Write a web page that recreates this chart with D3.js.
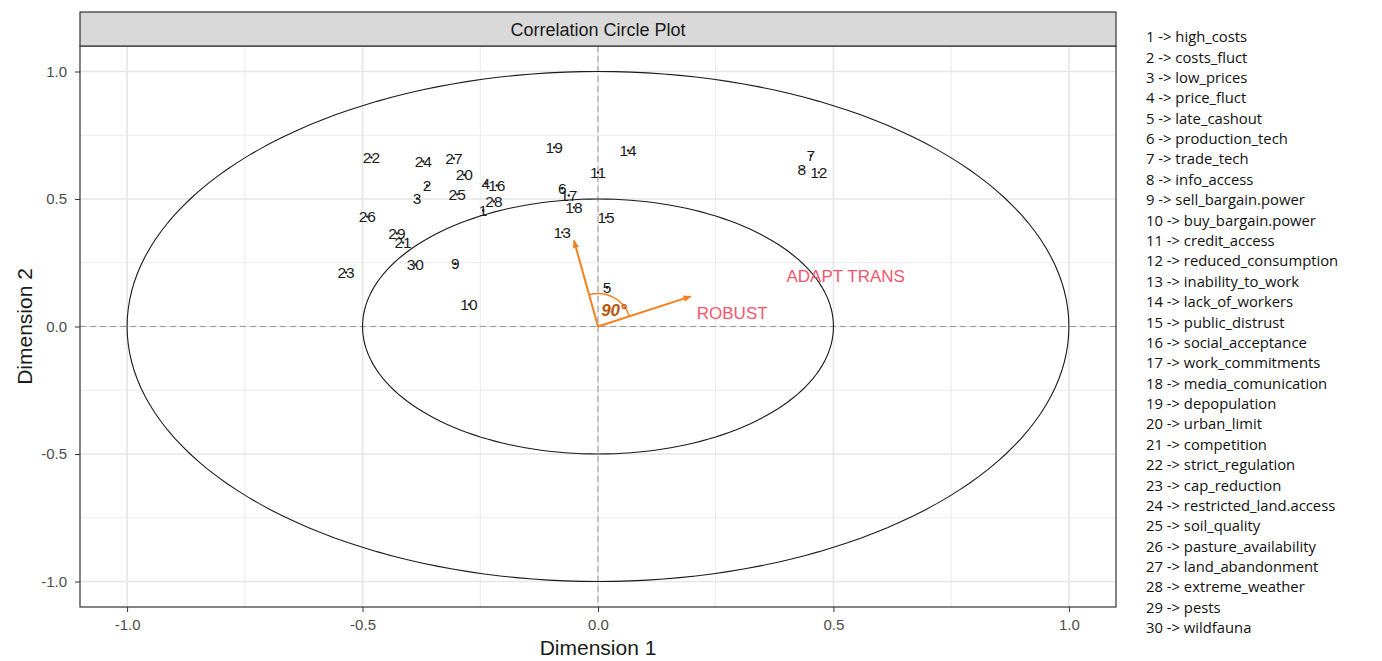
<!DOCTYPE html>
<html>
<head>
<meta charset="utf-8">
<script src="https://cdn.jsdelivr.net/npm/d3@7"></script>
<style>
  body { margin: 0; background: #fff; }
  svg { display: block; font-family: "Liberation Sans", Arial, sans-serif; }
</style>
</head>
<body>
<div id="chart"></div>
<script>
// variable names (legend) and their coordinates on the two dimensions
const varNames = ["high_costs", "costs_fluct", "low_prices", "price_fluct", "late_cashout",
  "production_tech", "trade_tech", "info_access", "sell_bargain.power", "buy_bargain.power",
  "credit_access", "reduced_consumption", "inability_to_work", "lack_of_workers", "public_distrust",
  "social_acceptance", "work_commitments", "media_comunication", "depopulation", "urban_limit",
  "competition", "strict_regulation", "cap_reduction", "restricted_land.access", "soil_quality",
  "pasture_availability", "land_abandonment", "extreme_weather", "pests", "wildfauna"];
const dim1 = [-0.244, -0.363, -0.384, -0.238, 0.019, -0.076, 0.452, 0.433, -0.303, -0.274,
  0.0, 0.469, -0.076, 0.064, 0.017, -0.215, -0.062, -0.051, -0.093, -0.284,
  -0.414, -0.481, -0.535, -0.371, -0.299, -0.490, -0.306, -0.221, -0.427, -0.388];
const dim2 = [0.455, 0.553, 0.502, 0.561, 0.153, 0.541, 0.671, 0.616, 0.247, 0.086,
  0.604, 0.604, 0.369, 0.690, 0.427, 0.553, 0.514, 0.467, 0.702, 0.594,
  0.329, 0.663, 0.212, 0.647, 0.518, 0.431, 0.659, 0.490, 0.365, 0.243];

// supplementary labels
const suppNames = ["ROBUST", "ADAPT TRANS"];
const suppDim1 = [0.285, 0.526];
const suppDim2 = [0.051, 0.196];

// orange arrows
const arrowDim1 = [-0.051, 0.197];
const arrowDim2 = [0.337, 0.118];

const circleRadii = [1.0, 0.5];
const majorTicks = [-1.0, -0.5, 0.0, 0.5, 1.0];
const minorTicks = [-0.75, -0.25, 0.25, 0.75];

const W = 1382, H = 661;
const panel = {left: 80, right: 1116, top: 46, bottom: 607};

const svg = d3.select("#chart").append("svg")
  .attr("width", W).attr("height", H);

const x = d3.scaleLinear().domain([-1.1, 1.1]).range([panel.left, panel.right]);
const y = d3.scaleLinear().domain([-1.1, 1.1]).range([panel.bottom, panel.top]);

// grid
const grid = svg.append("g");
grid.selectAll(".vminor").data(minorTicks).enter().append("line")
  .attr("x1", d => x(d)).attr("x2", d => x(d))
  .attr("y1", panel.top).attr("y2", panel.bottom)
  .attr("stroke", "#ebebeb").attr("stroke-width", 1);
grid.selectAll(".hminor").data(minorTicks).enter().append("line")
  .attr("y1", d => y(d)).attr("y2", d => y(d))
  .attr("x1", panel.left).attr("x2", panel.right)
  .attr("stroke", "#ebebeb").attr("stroke-width", 1);
grid.selectAll(".vmajor").data(majorTicks).enter().append("line")
  .attr("x1", d => x(d)).attr("x2", d => x(d))
  .attr("y1", panel.top).attr("y2", panel.bottom)
  .attr("stroke", "#e6e6e6").attr("stroke-width", 1.6);
grid.selectAll(".hmajor").data(majorTicks).enter().append("line")
  .attr("y1", d => y(d)).attr("y2", d => y(d))
  .attr("x1", panel.left).attr("x2", panel.right)
  .attr("stroke", "#e6e6e6").attr("stroke-width", 1.6);

// dashed zero lines
svg.append("line")
  .attr("x1", x(0)).attr("x2", x(0)).attr("y1", panel.top).attr("y2", panel.bottom)
  .attr("stroke", "#9a9a9a").attr("stroke-dasharray", "6,4").attr("stroke-width", 1);
svg.append("line")
  .attr("y1", y(0)).attr("y2", y(0)).attr("x1", panel.left).attr("x2", panel.right)
  .attr("stroke", "#9a9a9a").attr("stroke-dasharray", "6,4").attr("stroke-width", 1);

// correlation circles
const angles = d3.range(0, 361, 2).map(a => a * Math.PI / 180);
const line = d3.line().x(d => x(d[0])).y(d => y(d[1]));
circleRadii.forEach(r => {
  svg.append("path")
    .attr("d", line(angles.map(a => [r * Math.cos(a), r * Math.sin(a)])))
    .attr("fill", "none").attr("stroke", "#1a1a1a").attr("stroke-width", 1.1);
});

// arrows
svg.append("defs").append("marker")
  .attr("id", "head").attr("viewBox", "0 0 10 10")
  .attr("refX", 9).attr("refY", 5)
  .attr("markerWidth", 10).attr("markerHeight", 8)
  .attr("markerUnits", "userSpaceOnUse")
  .attr("orient", "auto")
  .append("path").attr("d", "M0,1 L10,5 L0,9 Z").attr("fill", "#f5801f");

const arrows = arrowDim1.map((d, i) => [d, arrowDim2[i]]);
svg.selectAll(".arrow").data(arrows).enter().append("line")
  .attr("x1", x(0)).attr("y1", y(0))
  .attr("x2", d => x(d[0])).attr("y2", d => y(d[1]))
  .attr("stroke", "#f5801f").attr("stroke-width", 2)
  .attr("marker-end", "url(#head)");

// right-angle arc between the arrows
const a1 = Math.atan2(x(arrows[0][0]) - x(0), -(y(arrows[0][1]) - y(0)));
const a2 = Math.atan2(x(arrows[1][0]) - x(0), -(y(arrows[1][1]) - y(0)));
svg.append("path")
  .attr("transform", `translate(${x(0)},${y(0)})`)
  .attr("d", d3.arc().innerRadius(33).outerRadius(33).startAngle(a1).endAngle(a2)())
  .attr("fill", "none").attr("stroke", "#f5801f").attr("stroke-width", 1.5);
svg.append("text")
  .attr("x", x(0) + 16).attr("y", y(0) - 11)
  .attr("text-anchor", "middle")
  .attr("font-size", 17).attr("font-weight", "bold").attr("font-style", "italic")
  .attr("fill", "#b8560c")
  .text("90°");

// variable points + labels
const pts = varNames.map((n, i) => ({id: i + 1, x: dim1[i], y: dim2[i]}));
svg.selectAll(".pt").data(pts).enter().append("circle")
  .attr("cx", d => x(d.x)).attr("cy", d => y(d.y)).attr("r", 1.2)
  .attr("fill", "#1a1a1a");
svg.selectAll(".lbl").data(pts).enter().append("text")
  .attr("x", d => x(d.x)).attr("y", d => y(d.y))
  .attr("dy", "0.35em").attr("text-anchor", "middle")
  .attr("font-size", 15.5).attr("fill", "#1a1a1a")
  .text(d => d.id);

// supplementary labels
const supp = suppNames.map((n, i) => ({name: n, x: suppDim1[i], y: suppDim2[i]}));
svg.selectAll(".supp").data(supp).enter().append("text")
  .attr("x", d => x(d.x)).attr("y", d => y(d.y))
  .attr("dy", "0.35em").attr("text-anchor", "middle")
  .attr("font-size", 17).attr("fill", "#f2566e")
  .text(d => d.name);

// panel border
svg.append("rect")
  .attr("x", panel.left).attr("y", panel.top)
  .attr("width", panel.right - panel.left).attr("height", panel.bottom - panel.top)
  .attr("fill", "none").attr("stroke", "#333").attr("stroke-width", 1.2);

// strip
svg.append("rect")
  .attr("x", panel.left).attr("y", 12)
  .attr("width", panel.right - panel.left).attr("height", panel.top - 12)
  .attr("fill", "#d9d9d9").attr("stroke", "#333").attr("stroke-width", 1.2);
svg.append("text")
  .attr("x", (panel.left + panel.right) / 2).attr("y", 30)
  .attr("dy", "0.35em").attr("text-anchor", "middle")
  .attr("font-size", 18).attr("fill", "#1a1a1a")
  .text("Correlation Circle Plot");

// axes
const fmt = d => d.toFixed(1);
const xAxis = svg.append("g")
  .attr("transform", `translate(0,${panel.bottom})`)
  .call(d3.axisBottom(x).tickValues(majorTicks).tickFormat(fmt).tickSize(5).tickPadding(7));
const yAxis = svg.append("g")
  .attr("transform", `translate(${panel.left},0)`)
  .call(d3.axisLeft(y).tickValues(majorTicks).tickFormat(fmt).tickSize(5).tickPadding(8));
[xAxis, yAxis].forEach(g => {
  g.select(".domain").remove();
  g.selectAll(".tick line").attr("stroke", "#333");
  g.selectAll(".tick text").attr("fill", "#4d4d4d").attr("font-size", 15)
    .attr("font-family", "Liberation Sans, Arial, sans-serif");
});

svg.append("text")
  .attr("x", (panel.left + panel.right) / 2).attr("y", 648)
  .attr("dy", "0.35em").attr("text-anchor", "middle")
  .attr("font-size", 21).attr("fill", "#1a1a1a")
  .text("Dimension 1");
svg.append("text")
  .attr("transform", `translate(25,${(panel.top + panel.bottom) / 2}) rotate(-90)`)
  .attr("dy", "0.35em").attr("text-anchor", "middle")
  .attr("font-size", 21).attr("fill", "#1a1a1a")
  .text("Dimension 2");

// legend
svg.append("g").selectAll("text").data(varNames).enter().append("text")
  .attr("x", 1146).attr("y", (d, i) => 37 + i * 20.38)
  .attr("dy", "0.35em")
  .attr("font-family", "Open Sans, sans-serif")
  .attr("font-size", 14.8).attr("fill", "#111")
  .text((d, i) => `${i + 1} -> ${d}`);
</script>
</body>
</html>
